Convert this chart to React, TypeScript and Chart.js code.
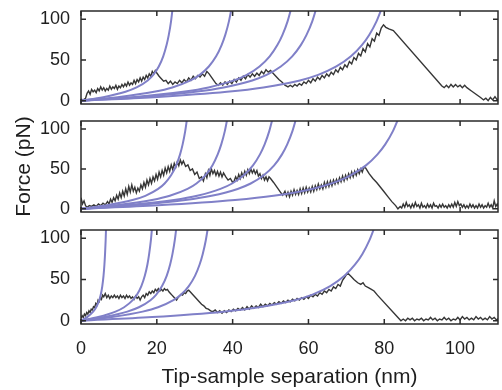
import React, { useEffect, useRef } from "react";
import { Chart, registerables } from "chart.js";
Chart.register(...registerables);

const X_TICKS = [0, 20, 40, 60, 80, 100];
const Y_TICKS = [0, 50, 100];
const X_MIN = 0, X_MAX = 110, Y_MIN = -4, Y_MAX = 110;
const X_TITLE = "Tip-sample separation (nm)";
const Y_TITLE = "Force (pN)";

// Force values shared by the fitted (WLC-like) curves
const FIT_Y = [0, 4.4, 11, 16.3, 24.9, 31.7, 42, 54.4, 68.2, 80.7, 97.3, 120];

// Panel 1 fitted curves (extension values, nm)
const P1_FIT_A = [0, 5.86, 11.73, 14.66, 17.59, 19.06, 20.52, 21.69, 22.57, 23.16, 23.75, 24.33];
const P1_FIT_B = [0, 9.63, 19.27, 24.09, 28.9, 31.32, 33.72, 35.65, 37.09, 38.06, 39.02, 39.98];
const P1_FIT_C = [0, 13.45, 26.91, 33.64, 40.36, 43.73, 47.09, 49.78, 51.8, 53.15, 54.49, 55.84];
const P1_FIT_D = [0, 15.06, 30.12, 37.65, 45.18, 48.95, 52.71, 55.72, 57.98, 59.49, 61.0, 62.5];
const P1_FIT_E = [0, 19.25, 38.49, 48.12, 57.74, 62.55, 67.36, 71.21, 74.09, 76.02, 77.95, 79.87];

// Panel 2 fitted curves
const P2_FIT_A = [0, 6.79, 13.58, 16.97, 20.36, 22.06, 23.76, 25.12, 26.13, 26.81, 27.49, 28.17];
const P2_FIT_B = [0, 9.37, 18.73, 23.42, 28.1, 30.45, 32.79, 34.66, 36.06, 37.0, 37.94, 38.87];
const P2_FIT_C = [0, 12.26, 24.52, 30.66, 36.79, 39.86, 42.92, 45.37, 47.21, 48.44, 49.66, 50.89];
const P2_FIT_D = [0, 13.77, 27.54, 34.43, 41.31, 44.76, 48.2, 50.95, 53.02, 54.4, 55.77, 57.15];
const P2_FIT_E = [0, 20.32, 40.63, 50.79, 60.95, 66.03, 71.11, 75.17, 78.21, 80.25, 82.28, 84.31];

// Panel 3 fitted curves
const P3_FIT_A = [0, 1.61, 3.21, 4.01, 4.82, 5.22, 5.62, 5.94, 6.18, 6.34, 6.5, 6.66];
const P3_FIT_B = [0, 4.55, 9.1, 11.38, 13.65, 14.79, 15.92, 16.83, 17.52, 17.97, 18.43, 18.88];
const P3_FIT_C = [0, 6.11, 12.21, 15.27, 18.32, 19.85, 21.38, 22.6, 23.51, 24.12, 24.73, 25.34];
const P3_FIT_D = [0, 8.13, 16.25, 20.32, 24.38, 26.41, 28.44, 30.07, 31.29, 32.1, 32.91, 33.72];
const P3_FIT_E = [0, 18.78, 37.57, 46.96, 56.35, 61.05, 65.74, 69.5, 72.31, 74.2, 76.07, 77.95];

// Measured force traces [nm, pN]
const P1_TRACE: [number, number][] = [
  [0,2],[0.6,1],[1.2,3],[1.6,9],[2.0,12],[2.4,8],[2.8,14],[3.2,11],[3.6,13],[4.0,10],[4.4,15],[4.8,12],[5.2,17],[5.6,13],[6.0,16],[6.4,12],[6.8,15],[7.2,13],[7.6,18],[8.0,14],[8.4,17],[8.8,15],[9.2,19],[9.6,14],[10.0,18],[10.4,16],[10.8,20],[11.2,17],[11.6,21],[12.0,18],[12.4,23],[12.8,19],[13.2,22],[13.6,20],[14.0,25],[14.4,21],[14.8,26],[15.2,23],[15.6,28],[16.0,24],[16.4,29],[16.8,26],[17.2,31],[17.6,28],[18.0,33],[18.4,30],[18.8,36],[19.2,33],[19.6,37],[20.0,34],
  [20.6,30],[21.2,27],[21.8,24],[22.4,25],[23.0,21],[23.6,24],[24.2,20],[24.8,23],[25.4,21],[26.0,25],[26.6,22],[27.2,26],[27.8,23],[28.4,28],[29.0,25],[29.6,30],[30.2,27],[30.8,31],[31.4,29],[32.0,33],[32.6,30],[33.2,36],[33.8,33],
  [34.4,29],[35.0,25],[35.6,21],[36.2,19],[36.8,22],[37.4,19],[38.0,23],[38.6,20],[39.2,24],[39.8,21],[40.4,26],[41.0,23],[41.6,28],[42.2,25],[42.8,30],[43.4,27],[44.0,32],[44.6,29],[45.2,33],[45.8,30],[46.4,34],[47.0,31],[47.6,36],[48.2,33],[48.8,38],[49.4,35],[50.0,37],[50.6,34],
  [51.4,30],[52.2,26],[53.0,23],[53.8,19],[54.6,17],[55.2,19],[55.8,17],[56.4,20],[57.0,18],[57.6,21],[58.2,19],[58.8,23],[59.4,21],[60.0,25],[60.6,22],[61.2,27],[61.8,24],[62.4,29],[63.0,26],[63.6,31],[64.2,28],[64.8,33],[65.4,30],[66.0,35],[66.6,32],[67.2,38],[67.8,35],[68.4,41],[69.0,38],[69.6,44],[70.2,41],[70.8,48],[71.4,45],[72.0,53],[72.6,50],[73.2,58],[73.8,55],[74.4,64],[75.0,60],[75.6,70],[76.2,66],[76.8,76],[77.4,73],[78.0,83],[78.6,80],[79.2,89],[79.8,93],
  [80.4,90],[81.2,88],[82.4,86],[95.2,18],
  [95.8,16],[96.4,19],[97.0,16],[97.6,20],[98.2,17],[98.8,20],[99.4,17],[100.0,19],[100.6,16],[101.2,19],[101.8,16],
  [103.0,12],[104.2,8],[105.4,4],[106.2,1],[106.8,3],[107.4,0],[108.0,4],[108.6,1],[109.2,5],[109.8,1],[110.4,3]
];

const P2_TRACE: [number, number][] = [
  [0,14],[0.4,6],[0.8,10],[1.2,4],[1.6,2],[2.2,4],[2.8,3],[3.4,5],[4.0,3],[4.6,6],[5.2,4],[5.8,7],[6.4,5],[7.0,9],[7.4,6],[7.8,12],[8.2,8],[8.6,14],[9.0,10],[9.4,17],[9.8,12],[10.2,20],[10.6,14],[11.0,22],[11.4,16],[11.8,25],[12.2,18],[12.6,28],[13.0,21],[13.4,30],[13.8,22],[14.2,27],[14.6,20],[15.0,26],[15.4,22],[15.8,30],[16.2,25],[16.6,33],[17.0,27],[17.4,36],[17.8,30],[18.2,38],[18.6,32],[19.0,40],[19.4,35],[19.8,43],[20.2,37],[20.6,46],[21.0,40],[21.4,48],[21.8,42],[22.2,51],[22.6,45],[23.0,53],[23.4,47],[23.8,55],[24.2,49],[24.6,57],[25.0,52],[25.4,59],[25.8,54],[26.2,61],[26.6,56],[27.0,60],
  [27.6,53],[28.2,55],[28.8,48],[29.4,50],[30.0,43],[30.6,46],[31.2,38],[31.8,40],[32.3,35],[32.8,44],[33.2,39],[33.6,48],[34.0,42],[34.4,50],[34.8,44],[35.2,48],[35.6,42],[36.0,47],[36.4,41],[36.8,46],[37.2,40],[37.6,45],
  [38.2,40],[38.8,36],[39.4,38],[40.0,33],[40.4,35],[40.8,40],[41.2,36],[41.6,43],[42.0,38],[42.4,45],[42.8,40],[43.2,47],[43.6,42],[44.0,49],[44.4,44],[44.8,50],[45.2,45],[45.6,49],[46.0,44],[46.4,48],[46.8,41],[47.2,44],[47.6,38],[48.0,42],[48.4,36],[48.8,40],[49.2,35],[49.6,40],[50.0,38],
  [50.8,33],[51.4,29],[52.0,25],[52.6,21],[53.2,17],[53.8,22],[54.2,16],[54.6,21],[55.0,15],[55.4,22],[55.8,17],[56.2,24],[56.6,18],[57.0,23],[57.4,18],[57.8,25],[58.2,19],[58.6,26],[59.0,20],[59.4,27],[59.8,21],[60.2,26],[60.6,21],[61.0,28],[61.4,22],[61.8,29],[62.2,24],[62.6,31],[63.0,25],[63.4,30],[63.8,25],[64.2,33],[64.6,27],[65.0,34],[65.4,28],[65.8,35],[66.2,29],[66.6,36],[67.0,31],[67.4,37],[67.8,32],[68.2,39],[68.6,34],[69.0,41],[69.4,35],[69.8,42],[70.2,37],[70.6,44],[71.0,39],[71.4,46],[71.8,40],[72.2,47],[72.6,42],[73.0,49],[73.4,44],[73.8,50],[74.2,46],[74.6,52],[75.1,51],
  [76.0,44],[77.0,38],[78.0,33],[79.0,27],[80.0,21],[81.0,15],[82.0,9],[83.0,4],[83.6,0],
  [84.2,3],[84.6,1],[85.0,6],[85.4,2],[85.8,8],[86.2,3],[86.6,5],[87.0,1],[87.4,6],[87.8,2],[88.2,8],[88.6,3],[89.0,5],[89.4,1],[89.8,7],[90.2,2],[90.6,4],[91.0,1],[91.4,6],[91.8,2],[92.2,5],[92.6,1],[93.0,7],[93.4,3],[93.8,4],[94.2,1],[94.6,5],[95.0,2],[95.4,6],[95.8,2],[96.2,4],[96.6,1],[97.0,5],[97.4,2],[97.8,6],[98.2,2],[98.6,8],[99.0,3],[99.4,9],[99.8,4],[100.2,6],[100.6,2],[101.0,5],[101.4,1],[101.8,4],[102.2,1],[102.6,6],[103.0,2],[103.4,5],[103.8,1],[104.2,4],[104.6,1],[105.0,6],[105.4,2],[105.8,5],[106.2,1],[106.6,4],[107.0,2],[107.4,7],[107.8,2],[108.2,5],[108.6,1],[109.0,10],[109.4,3],[109.8,6],[110.2,2]
];

const P3_TRACE: [number, number][] = [
  [0,3],[0.3,6],[0.6,4],[0.9,8],[1.2,6],[1.5,10],[1.8,8],[2.1,12],[2.4,10],[2.7,14],[3.0,13],[3.3,17],[3.6,16],[3.9,21],[4.2,19],[4.5,25],[4.8,23],[5.1,28],[5.4,26],[5.7,31],[6.0,29],[6.4,33],[6.8,28],[7.2,31],[7.6,27],[8.0,30],[8.4,28],[8.8,31],[9.2,28],[9.6,30],[10.0,27],[10.4,31],[10.8,28],[11.2,30],[11.6,27],[12.0,31],[12.4,28],[12.8,30],[13.2,27],[13.6,29],[14.0,26],[14.4,30],[14.8,27],[15.2,29],[15.6,25],[16.0,29],[16.4,31],[16.8,28],[17.2,33],[17.6,31],[18.0,35],[18.4,33],[18.8,36],[19.2,34],[19.6,38],[20.0,36],[20.4,39],[20.8,36],[21.2,38],[21.6,36],[22.0,39],[22.4,37],[22.8,38],[23.2,35],[23.6,33],[24.0,31],[24.4,29],[24.8,27],[25.2,25],[25.6,28],[26.0,30],[26.4,32],[26.8,31],[27.2,34],[27.6,33],[28.0,36],[28.4,37],[28.8,35],
  [29.4,32],[30.0,29],[30.6,26],[31.2,23],[31.8,20],[32.4,18],[33.0,15],[33.6,14],[34.2,12],[34.8,11],[35.4,13],[36.0,10],[36.6,12],[37.2,9],[37.8,12],[38.4,10],[39.0,13],[39.6,11],[40.2,14],[40.8,12],[41.4,15],[42.0,13],[42.6,16],[43.2,13],[43.8,17],[44.4,14],[45.0,18],[45.6,15],[46.2,18],[46.8,16],[47.4,20],[48.0,17],[48.6,20],[49.2,18],[49.8,21],[50.4,19],[51.0,22],[51.6,20],[52.2,23],[52.8,21],[53.4,24],[54.0,22],[54.6,25],[55.2,23],[55.8,26],[56.4,24],[57.0,27],[57.6,25],[58.2,28],[58.8,26],[59.4,29],[60.0,27],[60.6,31],[61.2,29],[61.8,32],[62.4,30],[63.0,34],[63.6,32],[64.2,36],[64.8,34],[65.4,38],[66.0,36],[66.6,41],[67.2,39],[67.8,44],[68.4,42],[69.0,49],[69.6,53],[70.3,58],
  [71.2,54],[72.0,50],[73.0,46],[73.8,44],[74.4,46],[75.0,42],[75.8,40],[76.6,38],[77.3,36],[78.2,31],[84.4,0],
  [85.0,2],[85.6,0],[86.2,3],[86.8,1],[87.4,3],[88.0,0],[88.6,2],[89.2,1],[89.8,3],[90.4,0],[91.0,2],[91.6,1],[92.2,4],[92.8,1],[93.4,3],[94.0,0],[94.6,2],[95.2,1],[95.8,4],[96.4,1],[97.0,3],[97.6,0],[98.2,2],[98.8,1],[99.4,4],[100.0,1],[100.6,5],[101.2,2],[101.8,4],[102.4,1],[103.0,3],[103.6,1],[104.2,5],[104.8,2],[105.4,4],[106.0,1],[106.6,3],[107.2,1],[107.8,5],[108.4,2],[109.0,4],[109.6,1],[110.2,3]
];

const PURPLE = "#8080c8";
const GRAY = "#363636";
const FRAME = "#2a2a2a";
const TEXT = "#1e1e1e";
const FONT = "'Liberation Sans', Arial, Helvetica, sans-serif";

const framePlugin = {
  id: "frame",
  afterDatasetsDraw(chart: any) {
    const { ctx, chartArea: a, scales } = chart;
    ctx.save();
    ctx.strokeStyle = FRAME;
    ctx.lineWidth = 1.5;
    ctx.strokeRect(a.left, a.top, a.right - a.left, a.bottom - a.top);
    const L = 5;
    ctx.beginPath();
    for (const v of X_TICKS) {
      const x = scales.x.getPixelForValue(v);
      ctx.moveTo(x, a.bottom); ctx.lineTo(x, a.bottom - L);
      ctx.moveTo(x, a.top); ctx.lineTo(x, a.top + L);
    }
    for (const v of Y_TICKS) {
      const y = scales.y.getPixelForValue(v);
      ctx.moveTo(a.left, y); ctx.lineTo(a.left + L, y);
      ctx.moveTo(a.right, y); ctx.lineTo(a.right - L, y);
    }
    ctx.stroke();
    ctx.restore();
  },
};

type PanelProps = {
  trace: [number, number][];
  fits: number[][];
  top: number;
  height: number;
  padTop: number;
  padBottom: number;
  showX: boolean;
  showYTitle: boolean;
};

function Panel({ trace, fits, top, height, padTop, padBottom, showX, showYTitle }: PanelProps) {
  const ref = useRef<HTMLCanvasElement>(null);
  useEffect(() => {
    if (!ref.current) return;
    const datasets: any[] = fits.map((xs) => ({
      data: xs.map((x, i) => ({ x, y: FIT_Y[i] })),
      borderColor: PURPLE,
      borderWidth: 2,
      pointRadius: 0,
      cubicInterpolationMode: "monotone",
      fill: false,
    }));
    datasets.push({
      data: trace.map(([x, y]) => ({ x, y })),
      borderColor: GRAY,
      borderWidth: 1.4,
      pointRadius: 0,
      tension: 0,
      fill: false,
    });
    const chart = new Chart(ref.current, {
      type: "line",
      data: { datasets },
      options: {
        animation: false,
        responsive: false,
        devicePixelRatio: 1,
        events: [],
        layout: { padding: { top: padTop, bottom: padBottom, left: 0, right: 4 } },
        plugins: { legend: { display: false }, tooltip: { enabled: false } },
        scales: {
          x: {
            type: "linear",
            min: X_MIN,
            max: X_MAX,
            afterBuildTicks: (s: any) => { s.ticks = X_TICKS.map((v) => ({ value: v })); },
            afterFit: (s: any) => { s.height = showX ? 66 : 0; },
            grid: { display: false, drawTicks: true, tickLength: 14 },
            border: { display: false },
            ticks: {
              display: showX,
              padding: 0,
              maxRotation: 0,
              autoSkip: false,
              color: TEXT,
              font: { family: FONT, size: 18 },
            },
            title: {
              display: showX,
              text: X_TITLE,
              color: TEXT,
              font: { family: FONT, size: 21 },
              padding: { top: 0, bottom: 0 },
            },
          },
          y: {
            type: "linear",
            min: Y_MIN,
            max: Y_MAX,
            afterBuildTicks: (s: any) => { s.ticks = Y_TICKS.map((v) => ({ value: v })); },
            afterFit: (s: any) => { s.width = 81; },
            grid: { display: false, drawTicks: true, tickLength: 11 },
            border: { display: false },
            ticks: {
              padding: 0,
              color: TEXT,
              font: { family: FONT, size: 18 },
            },
            title: {
              display: showYTitle,
              text: Y_TITLE,
              color: TEXT,
              font: { family: FONT, size: 21 },
              padding: { top: 11.5, bottom: 0 },
            },
          },
        },
      },
      plugins: [framePlugin],
    } as any);
    return () => chart.destroy();
  }, []);
  return (
    <canvas
      ref={ref}
      width={502}
      height={height}
      style={{ position: "absolute", left: 0, top, width: 502, height, display: "block" }}
    />
  );
}

export default function App() {
  return (
    <div style={{ position: "fixed", left: 0, top: 0, width: 502, height: 390, background: "#fff", overflow: "hidden" }}>
      <Panel trace={P1_TRACE} fits={[P1_FIT_A, P1_FIT_B, P1_FIT_C, P1_FIT_D, P1_FIT_E]} top={0} height={115} padTop={11} padBottom={11} showX={false} showYTitle={false} />
      <Panel trace={P2_TRACE} fits={[P2_FIT_A, P2_FIT_B, P2_FIT_C, P2_FIT_D, P2_FIT_E]} top={108} height={115} padTop={13} padBottom={11} showX={false} showYTitle={true} />
      <Panel trace={P3_TRACE} fits={[P3_FIT_A, P3_FIT_B, P3_FIT_C, P3_FIT_D, P3_FIT_E]} top={217} height={173} padTop={13} padBottom={0} showX={true} showYTitle={false} />
    </div>
  );
}
